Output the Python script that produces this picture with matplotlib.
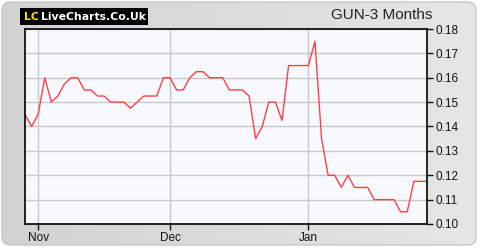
import numpy as np
import matplotlib
matplotlib.use("Agg")
import matplotlib.pyplot as plt
from matplotlib.patches import FancyBboxPatch

# GUN share price, one value per trading day
prices = [0.145, 0.140, 0.145, 0.160, 0.150, 0.1525, 0.1575, 0.160, 0.160, 0.155,
          0.155, 0.1525, 0.1525, 0.150, 0.150, 0.150, 0.1475, 0.150, 0.1525, 0.1525,
          0.1525, 0.160, 0.160, 0.155, 0.155, 0.160, 0.1625, 0.1625, 0.160, 0.160,
          0.160, 0.155, 0.155, 0.155, 0.1525, 0.135, 0.140, 0.150, 0.150, 0.1425,
          0.165, 0.165, 0.165, 0.165, 0.175, 0.135, 0.120, 0.120, 0.115, 0.120,
          0.115, 0.115, 0.115, 0.110, 0.110, 0.110, 0.110, 0.105, 0.105, 0.1175,
          0.1175, 0.1175]
month_labels = ["Nov", "Dec", "Jan"]
month_pos = [2, 22, 43]
y_ticks = [0.10, 0.11, 0.12, 0.13, 0.14, 0.15, 0.16, 0.17, 0.18]

W, H = 480, 250
fig = plt.figure(figsize=(W / 100, H / 100), dpi=100)
fig.patch.set_facecolor("white")

# background panel with a soft grey gradient and rounded corners
bg = fig.add_axes([0, 0, 1, 1])
bg.set_xlim(0, W)
bg.set_ylim(H, 0)
bg.axis("off")
grad = np.linspace(0, 1, 256).reshape(1, -1)
img = bg.imshow(grad, cmap=matplotlib.colors.LinearSegmentedColormap.from_list(
    "g", ["#d2d2d2", "#e6e6e6"]), extent=[0, W, H, 0], aspect="auto")
panel = FancyBboxPatch((2, 2), W - 6, H - 7, boxstyle="round,pad=0,rounding_size=8",
                       facecolor="none", edgecolor="#c8c8c8", lw=1)
bg.add_patch(panel)
img.set_clip_path(panel)

# logo
bg.add_patch(plt.Rectangle((20, 8), 128, 17, facecolor="black", edgecolor="none"))
bg.text(24, 16.5, "LC", color="#f0e000", fontsize=7.8, fontweight="bold",
        va="center", ha="left", family="DejaVu Sans")
bg.text(41, 16.5, "LiveCharts.Co.Uk", color="white", fontsize=7.8, fontweight="bold",
        va="center", ha="left", family="DejaVu Sans")
bg.text(432, 15, "GUN-3 Months", color="#222222", fontsize=11,
        va="center", ha="right", family="Liberation Sans")

# main chart
x0, x1, y0, y1 = 25, 427, 29, 224
ax = fig.add_axes([x0 / W, 1 - y1 / H, (x1 - x0) / W, (y1 - y0) / H])
ax.set_facecolor("#f8f9ff")
ax.plot(range(len(prices)), prices, color="#ff4040", lw=1)
ax.set_xlim(0, len(prices) - 1)
ax.set_ylim(0.10, 0.18)
ax.set_yticks(y_ticks)
ax.set_yticklabels([f"{v:.2f}" for v in y_ticks])
ax.set_xticks(month_pos)
ax.set_xticklabels(month_labels)
ax.yaxis.tick_right()
ax.grid(True, color="#c8c8c8", lw=1)
ax.tick_params(axis="both", labelsize=8, colors="#111111", length=4, width=1,
               direction="out", pad=2)
for s in ax.spines.values():
    s.set_color("black")
    s.set_linewidth(1.2)
for lab in ax.get_xticklabels() + ax.get_yticklabels():
    lab.set_family("Liberation Sans")
    lab.set_fontsize(8.5)

fig.savefig("out.png", dpi=100, facecolor=fig.get_facecolor())
